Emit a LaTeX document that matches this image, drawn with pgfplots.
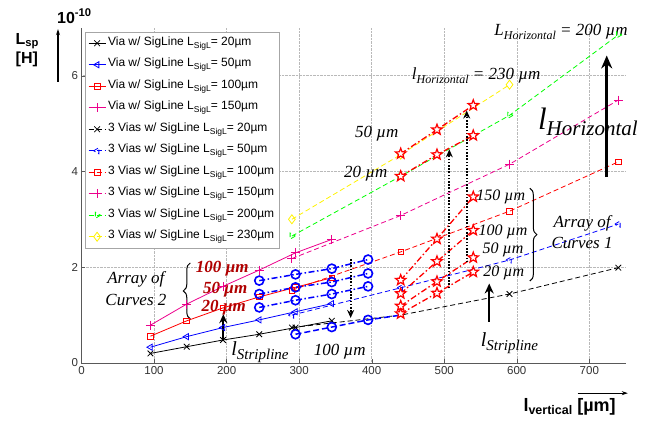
\documentclass[border=0pt]{standalone}
\usepackage{pgfplots}
\pgfplotsset{compat=1.18}
\usepackage{fontspec}
\setmainfont{Liberation Sans}
\newfontfamily\tms{Liberation Serif}
\usetikzlibrary{arrows.meta,decorations.pathreplacing}

\definecolor{dred}{RGB}{176,0,0}
\newcommand{\fs}[1]{\fontsize{#1}{#1}\selectfont}
\newcommand{\sig}{L\raisebox{-3pt}{\fs{8.5}SigL}}

% MATLAB-like pentagram
\pgfdeclareplotmark{pentagram}{%
  \pgfpathmoveto{\pgfpointpolar{90}{\pgfplotmarksize}}%
  \pgfpathlineto{\pgfpointpolar{126}{0.42\pgfplotmarksize}}%
  \pgfpathlineto{\pgfpointpolar{162}{\pgfplotmarksize}}%
  \pgfpathlineto{\pgfpointpolar{198}{0.42\pgfplotmarksize}}%
  \pgfpathlineto{\pgfpointpolar{234}{\pgfplotmarksize}}%
  \pgfpathlineto{\pgfpointpolar{270}{0.42\pgfplotmarksize}}%
  \pgfpathlineto{\pgfpointpolar{306}{\pgfplotmarksize}}%
  \pgfpathlineto{\pgfpointpolar{342}{0.42\pgfplotmarksize}}%
  \pgfpathlineto{\pgfpointpolar{18}{\pgfplotmarksize}}%
  \pgfpathlineto{\pgfpointpolar{54}{0.42\pgfplotmarksize}}%
  \pgfpathclose
  \pgfusepathqfillstroke}

\pgfplotsset{
  vS/.style={solid, line width=0.8pt, mark options={solid}},
  vD/.style={dash pattern=on 5pt off 3pt, line width=0.8pt, mark options={solid}},
  circ/.style={blue, line width=1.5pt, dash pattern=on 6pt off 2.5pt on 1.5pt off 2.5pt,
    mark=o, mark size=4.5pt, mark options={solid, line width=1.6pt}},
  stars/.style={red, line width=1.3pt, dash pattern=on 6pt off 2.5pt on 1.5pt off 2.5pt,
    mark=pentagram, mark size=5.5pt, mark options={solid, draw=red, fill=white, line width=1.2pt}},
}

\begin{document}
\begin{tikzpicture}
\path[use as bounding box] (-81.5pt,-62pt) rectangle (571.5pt,363pt);
\begin{axis}[
  at={(0,0)}, anchor=south west, scale only axis,
  width=544.1pt, height=335.3pt,
  xmin=0, xmax=750, ymin=0, ymax=7,
  axis lines*=left, axis line style={gray!70!black, line width=0.6pt},
  xtick={0,100,...,700}, ytick={0,2,4,6},
  tick align=inside, major tick length=4pt, tick style={gray!70!black},
  grid=major, grid style={densely dotted, gray!55, line width=0.5pt},
  tick label style={font=\fs{11.5}, text=black!80},
  /pgf/number format/assume math mode=true,
  clip=false,
  legend style={at={(0.0064,0.987)}, anchor=north west, draw=gray!70, fill=white,
    font=\fs{12}, cells={anchor=west}, row sep=3.5pt,
    nodes={inner sep=2pt, text height=9pt, text depth=5pt}},
]
% --- single via, solid
\addplot[black, vS, mark=x, mark size=4pt] coordinates {(95,0.20)(145,0.34)(195,0.48)(245,0.60)(295,0.74)(345,0.88)};
\addlegendentry{Via w/ SigLine \sig= 20µm}
\addplot[blue, vS, mark=triangle, mark size=3.5pt, mark options={rotate=90}] coordinates {(95,0.33)(145,0.55)(195,0.74)(245,0.90)(295,1.07)(345,1.24)};
\addlegendentry{Via w/ SigLine \sig= 50µm}
\addplot[red, vS, mark=square, mark size=2.8pt] coordinates {(95,0.56)(145,0.88)(195,1.15)(245,1.38)(295,1.58)(345,1.78)};
\addlegendentry{Via w/ SigLine \sig= 100µm}
\addplot[magenta, vS, mark=+, mark size=4.5pt] coordinates {(95,0.79)(145,1.23)(195,1.60)(245,1.94)(295,2.30)(345,2.58)};
\addlegendentry{Via w/ SigLine \sig= 150µm}
% --- three vias, dashed
\addplot[black, vD, mark=x, mark size=4pt] coordinates {(290,0.74)(440,1.00)(590,1.44)(740,1.99)};
\addlegendentry{3 Vias w/ SigLine \sig= 20µm}
\addplot[blue, vD, mark=triangle, mark size=3.5pt, mark options={rotate=90}] coordinates {(290,1.00)(440,1.57)(590,2.15)(740,2.90)};
\addlegendentry{3 Vias w/ SigLine \sig= 50µm}
\addplot[red, vD, mark=square, mark size=2.8pt] coordinates {(290,1.52)(440,2.32)(590,3.17)(740,4.20)};
\addlegendentry{3 Vias w/ SigLine \sig= 100µm}
\addplot[magenta, vD, mark=+, mark size=4.5pt] coordinates {(290,2.18)(440,3.08)(590,4.15)(740,5.49)};
\addlegendentry{3 Vias w/ SigLine \sig= 150µm}
\addplot[green, vD, mark=triangle, mark size=3.5pt, mark options={rotate=-90}] coordinates {(290,2.65)(440,3.90)(590,5.17)(740,6.85)};
\addlegendentry{3 Vias w/ SigLine \sig= 200µm}
\addplot[yellow, vD, mark=diamond, mark size=4.5pt] coordinates {(290,3.00)(440,4.35)(590,5.81)};
\addlegendentry{3 Vias w/ SigLine \sig= 230µm}

% --- array of curves 2 (blue circles)
\addplot[circ, forget plot] coordinates {(245,1.16)(295,1.31)(345,1.44)(395,1.60)};
\addplot[circ, forget plot] coordinates {(245,1.44)(295,1.58)(345,1.69)(395,1.87)};
\addplot[circ, forget plot] coordinates {(245,1.72)(295,1.85)(345,1.97)(395,2.16)};
\addplot[circ, forget plot, dash pattern=on 6pt off 3pt, mark indices={1,2,3}] coordinates {(295,0.60)(345,0.75)(395,0.90)(440,1.00)};

% --- array of curves 1 (red stars)
\addplot[stars, forget plot] coordinates {(440,1.03)(490,1.46)(540,1.90)};
\addplot[stars, forget plot] coordinates {(440,1.19)(490,1.70)(540,2.20)};
\addplot[stars, forget plot] coordinates {(440,1.45)(490,2.12)(540,2.77)};
\addplot[stars, forget plot] coordinates {(440,1.73)(490,2.59)(540,3.47)};
\addplot[stars, forget plot] coordinates {(440,3.90)(490,4.35)(540,4.75)};
\addplot[stars, forget plot] coordinates {(440,4.37)(490,4.87)(540,5.38)};

% --- arrows
\draw[line width=2pt, dash pattern=on 1.6pt off 1.6pt, -{Stealth[length=8pt,width=7pt]}] (axis cs:371,2.17) -- (axis cs:371,0.94);
\draw[line width=2pt, dash pattern=on 1.6pt off 1.6pt, -{Stealth[length=8pt,width=7pt]}] (axis cs:507,1.56) -- (axis cs:507,4.46);
\draw[line width=2pt, dash pattern=on 1.6pt off 1.6pt, -{Stealth[length=8pt,width=7pt]}] (axis cs:531,2.10) -- (axis cs:531,5.27);
\draw[line width=2.8pt, -{Stealth[length=13pt,width=11pt]}] (axis cs:724,3.88) -- (axis cs:724,6.42);
\draw[line width=2.2pt, -{Stealth[length=9pt,width=8pt]}] (axis cs:195.5,0.48) -- (axis cs:195.5,1.02);
\draw[line width=2.5pt, -{Stealth[length=10pt,width=9pt]}] (axis cs:562,0.86) -- (axis cs:562,1.66);

% --- braces
\draw[decorate, decoration={brace, amplitude=7pt}, line width=1pt] (axis cs:150,0.92) -- (axis cs:150,2.09);
\draw[decorate, decoration={brace, amplitude=7pt}, line width=1pt] (axis cs:618,3.65) -- (axis cs:618,1.71);

% --- annotations
\begin{scope}[every node/.style={font=\tms\itshape, inner sep=0}]
\node[font=\tms\itshape\fs{17}] at (axis cs:75,1.75) {Array of};
\node[font=\tms\itshape\fs{17}] at (axis cs:75,1.32) {Curves 2};
\node[font=\tms\itshape\bfseries\fs{17}, text=dred] at (axis cs:194,1.98) {100 µm};
\node[font=\tms\itshape\bfseries\fs{17}, text=dred] at (axis cs:198,1.54) {50 µm};
\node[font=\tms\itshape\bfseries\fs{17}, text=dred] at (axis cs:196,1.15) {20 µm};
\node at (axis cs:246,0.23) {{\fs{20}l}\raisebox{-4pt}{\fs{15}Stripline}};
\node[font=\tms\itshape\fs{17}] at (axis cs:356,0.23) {100 µm};
\node at (axis cs:590,0.42) {{\fs{20}l}\raisebox{-4pt}{\fs{15}Stripline}};
\node[font=\tms\itshape\fs{17}] at (axis cs:690,2.92) {Array of};
\node[font=\tms\itshape\fs{17}] at (axis cs:690,2.50) {Curves 1};
\node[font=\tms\itshape\fs{16}] at (axis cs:578,3.47) {150 µm};
\node[font=\tms\itshape\fs{16}] at (axis cs:581,2.73) {100 µm};
\node[font=\tms\itshape\fs{16}] at (axis cs:581,2.36) {50 µm};
\node[font=\tms\itshape\fs{16}] at (axis cs:582,1.88) {20 µm};
\node[font=\tms\itshape\fs{17}] at (axis cs:407,4.78) {50 µm};
\node[font=\tms\itshape\fs{17}] at (axis cs:392,3.95) {20 µm};
\node at (axis cs:544,5.99) {{\fs{17}l}\raisebox{-4pt}{\fs{12}Horizontal}{\fs{17} = 230 µm}};
\node at (axis cs:661,6.91) {{\fs{17}L}\raisebox{-4pt}{\fs{12}Horizontal}{\fs{17} = 200 µm}};
\node at (axis cs:698,5.03) {{\fs{31}l}\raisebox{-6pt}{\fs{21}Horizontal}};
\end{scope}

% --- axis labels
\node[anchor=west, inner sep=0, font=\bfseries\fs{16}] at (axis cs:-33.8,7.24) {10\textsuperscript{-10}};
\node[anchor=west, inner sep=0, font=\bfseries\fs{16}] at (axis cs:-91,6.72) {L\textsubscript{sp}};
\node[anchor=west, inner sep=0, font=\bfseries\fs{16}] at (axis cs:-91,6.33) {[H]};
\draw[line width=1.2pt, -{Stealth[length=6pt,width=4pt]}] (axis cs:-32.4,5.87) -- (axis cs:-32.4,6.97);
\node[anchor=west, inner sep=0, font=\bfseries\fs{18}] at (axis cs:609,-0.92) {l\raisebox{-3pt}{\fs{12.5}vertical} [µm]};
\draw[line width=1pt, -{Stealth[length=6pt,width=4pt]}] (axis cs:684,-0.63) -- (axis cs:753,-0.63);
\end{axis}
\end{tikzpicture}
\end{document}
